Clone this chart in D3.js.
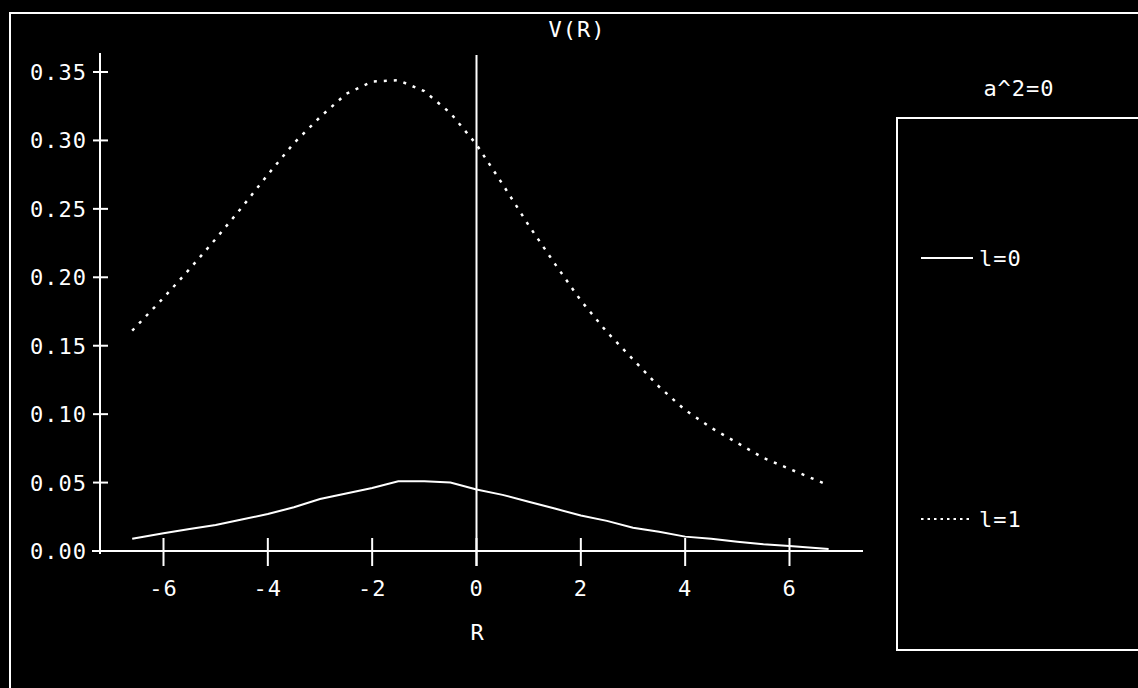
<!DOCTYPE html>
<html>
<head>
<meta charset="utf-8">
<script src="https://cdn.jsdelivr.net/npm/d3@7"></script>
<style>
  html, body { margin: 0; padding: 0; background: #000; }
  svg { display: block; }
  text { font-family: "DejaVu Sans Mono", monospace; fill: #fff; letter-spacing: 1px; }
</style>
</head>
<body>
<div id="svg"></div>
<script>
// data
var rValues = [-6.6, -6, -5.5, -5, -4.5, -4, -3.5, -3, -2.5, -2, -1.5, -1, -0.5, 0,
               0.5, 1, 1.5, 2, 2.5, 3, 3.5, 4, 4.5, 5, 5.5, 6, 6.75];
var vL0 = [0.009, 0.013, 0.016, 0.019, 0.023, 0.027, 0.032, 0.038, 0.042, 0.046, 0.051, 0.051, 0.050, 0.045,
           0.041, 0.036, 0.031, 0.026, 0.022, 0.017, 0.014, 0.0105, 0.009, 0.0068, 0.005, 0.0037, 0.0015];
var vL1 = [0.161, 0.185, 0.206, 0.228, 0.251, 0.275, 0.298, 0.317, 0.334, 0.343, 0.344, 0.336, 0.320, 0.297,
           0.268, 0.238, 0.210, 0.183, 0.160, 0.140, 0.120, 0.103, 0.090, 0.079, 0.068, 0.060, 0.048];
var xTicks = [-6, -4, -2, 0, 2, 4, 6];
var yTicks = [0, 0.05, 0.10, 0.15, 0.20, 0.25, 0.30, 0.35];
var seriesNames = ["l=0", "l=1"];

var svgWidth = 1138, svgHeight = 688;
var fontSize = 22;

var svg = d3.select("#svg").append("svg")
    .attr("width", svgWidth)
    .attr("height", svgHeight);

svg.append("rect").attr("width", svgWidth).attr("height", svgHeight).attr("fill", "#000");

// outer frame
svg.append("rect")
    .attr("x", 10).attr("y", 13)
    .attr("width", svgWidth + 20).attr("height", svgHeight + 20)
    .attr("fill", "none").attr("stroke", "#fff").attr("stroke-width", 2);

var x = d3.scaleLinear().domain([-6, 6]).range([163.5, 789.5]);
var y = d3.scaleLinear().domain([0, 0.35]).range([551, 72]);

// title
svg.append("text").text("V(R)")
    .attr("x", 577).attr("y", 37)
    .attr("text-anchor", "middle").attr("font-size", fontSize);

// x-axis
svg.append("line")
    .attr("x1", 92).attr("x2", 863)
    .attr("y1", y(0)).attr("y2", y(0))
    .attr("stroke", "#fff").attr("stroke-width", 2);
var xAxis = svg.append("g");
xTicks.forEach(function(t) {
    xAxis.append("line")
        .attr("x1", x(t)).attr("x2", x(t))
        .attr("y1", y(0) - 13).attr("y2", y(0) + 15)
        .attr("stroke", "#fff").attr("stroke-width", 2);
    xAxis.append("text").text(t < 0 ? "-" + Math.abs(t) : t)
        .attr("x", x(t)).attr("y", 596)
        .attr("text-anchor", "middle").attr("font-size", fontSize);
});
svg.append("text").text("R")
    .attr("x", x(0) + 1).attr("y", 640)
    .attr("text-anchor", "middle").attr("font-size", fontSize);

// y-axis
svg.append("line")
    .attr("x1", 100).attr("x2", 100)
    .attr("y1", 53).attr("y2", y(0) + 3)
    .attr("stroke", "#fff").attr("stroke-width", 2);
var yAxis = svg.append("g");
yTicks.forEach(function(t) {
    yAxis.append("line")
        .attr("x1", 93).attr("x2", 108)
        .attr("y1", y(t)).attr("y2", y(t))
        .attr("stroke", "#fff").attr("stroke-width", 2);
    yAxis.append("text").text(d3.format(".2f")(t))
        .attr("x", 87).attr("y", y(t) + 8)
        .attr("text-anchor", "end").attr("font-size", fontSize);
});

// vertical line at R=0
svg.append("line")
    .attr("x1", x(0)).attr("x2", x(0))
    .attr("y1", 55).attr("y2", y(0) + 15)
    .attr("stroke", "#fff").attr("stroke-width", 2);

// curves
var line = d3.line()
    .x(function(d) { return x(d[0]); })
    .y(function(d) { return y(d[1]); });

svg.append("path")
    .datum(d3.zip(rValues, vL0))
    .attr("d", line)
    .attr("fill", "none").attr("stroke", "#fff").attr("stroke-width", 2);

svg.append("path")
    .datum(d3.zip(rValues, vL1))
    .attr("d", line)
    .attr("fill", "none").attr("stroke", "#fff").attr("stroke-width", 2.5)
    .attr("stroke-dasharray", "3,7");

// legend
svg.append("text").text("a^2=0")
    .attr("x", 1019).attr("y", 96)
    .attr("text-anchor", "middle").attr("font-size", fontSize);
svg.append("rect")
    .attr("x", 897).attr("y", 118)
    .attr("width", 300).attr("height", 532)
    .attr("fill", "none").attr("stroke", "#fff").attr("stroke-width", 2);

var legendY = [258, 519];
seriesNames.forEach(function(name, i) {
    var l = svg.append("line")
        .attr("x1", 921).attr("x2", 973)
        .attr("y1", legendY[i]).attr("y2", legendY[i])
        .attr("stroke", "#fff").attr("stroke-width", 2);
    if (i === 1) l.attr("stroke-dasharray", "2.5,4");
    svg.append("text").text(name)
        .attr("x", 979).attr("y", legendY[i] + 8)
        .attr("font-size", fontSize);
});
</script>
</body>
</html>
